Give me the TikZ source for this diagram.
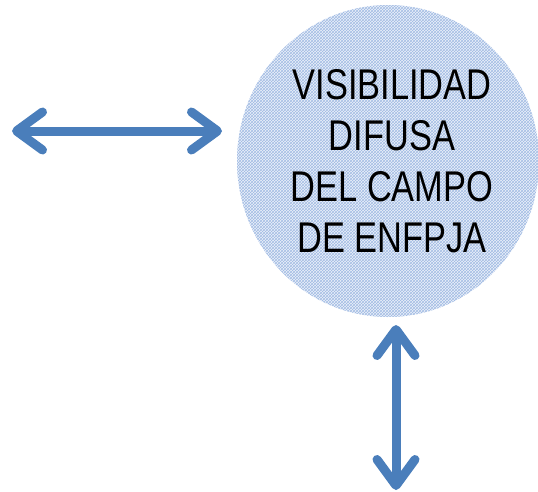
\documentclass[tikz,border=0pt]{standalone}
\usepackage{fontspec}
\setmainfont{Liberation Sans}[FakeStretch=0.8]
\usetikzlibrary{arrows.meta,patterns,shapes.geometric}
\definecolor{arrowblue}{RGB}{74,126,187}
\definecolor{ellfill}{RGB}{236,241,250}
\definecolor{ellpat}{RGB}{162,188,228}
\tikzset{
  dblarrow/.style={draw=arrowblue, line width=9pt,
    {Straight Barb[length=26pt,width=38pt,round]}-{Straight Barb[length=26pt,width=38pt,round]}},
  bubble/.style={ellipse, minimum width=302pt, minimum height=312pt, inner sep=0pt,
    fill=ellfill},
  bubbletext/.style={align=center, font=\fontsize{43}{51}\selectfont, text=black, inner sep=0pt}
}
\begin{document}
\begin{tikzpicture}[x=1pt,y=-1pt]
\useasboundingbox (0,0) rectangle (538,491);
\node[bubble] (c) at (388,161) {};
\fill[pattern=crosshatch, pattern color=ellpat] (388,161) ellipse [x radius=151, y radius=156];
\node[bubbletext] (t) at (392,161)
  {VISIBILIDAD\\DIFUSA\\DEL CAMPO\\DE ENFPJA};
\coordinate (hl) at (12,131);
\coordinate (hr) at (222,131);
\coordinate (vb) at (396,490);
\coordinate (vt) at (396,325);
\draw[dblarrow] (hl) -- (hr);
\draw[dblarrow] (vt) -- (vb);
\end{tikzpicture}
\end{document}
